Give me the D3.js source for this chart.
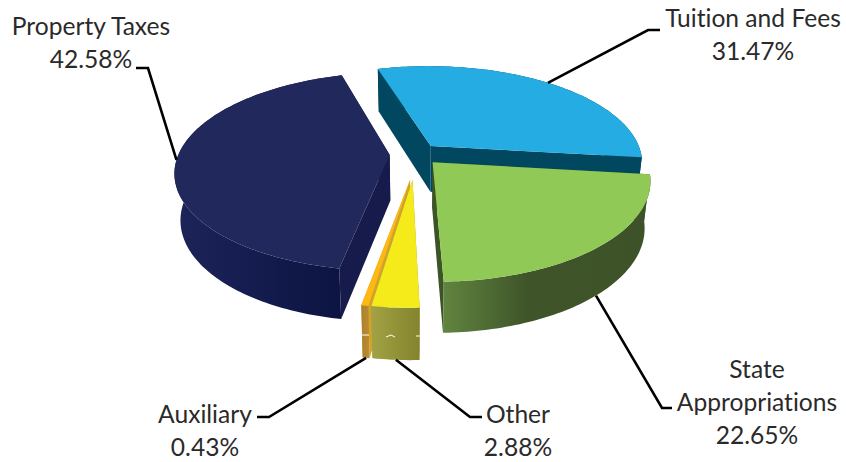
<!DOCTYPE html>
<html>
<head>
<meta charset="utf-8">
<script src="https://cdn.jsdelivr.net/npm/d3@7/dist/d3.min.js"></script>
<style>
  html, body { margin: 0; background: #fff; }
  text { font-family: Lato, "Open Sans", sans-serif; font-size: 24.6px; fill: #2b2a2a; text-anchor: middle; font-variant-ligatures: none; }
</style>
</head>
<body>
<svg id="chart" width="846" height="462"></svg>
<script>
// Revenue sources, clockwise from the pie's start bearing
const categories = ["Tuition and Fees", "State Appropriations", "Other", "Auxiliary", "Property Taxes"];
const shares = [31.47, 22.65, 2.88, 0.43, 42.58];

// Look of each wedge: how far it is pulled out, and its face colours
const styles = [
  { pull: 0.11, nudge: 0, top: "#25ace2", side: "#00475f", wall: ["#00475f", "#00475f", "#00475f"] },
  { pull: 0.115, nudge: 0, top: "#90c956", side: "#3c5426", wall: ["#618440", "#3f5529", "#3d5228"] },
  { pull: 0.26, nudge: 0, top: "#f5eb1a", side: "#9c9a3f", wall: ["#a3a246", "#959539", "#84842f"] },
  { pull: 0.26, nudge: -3.5, top: "#fdb813", side: "#d1a32b", wall: ["#a97e30", "#b08530", "#b98a2e"] },
  { pull: 0.125, nudge: 0, top: "#20285c", side: "#161b4b", wall: ["#1d2458", "#161d50", "#0c1442"] }
];

// Label lines and where the leader bends, per wedge
const labels = [
  { lines: ["Tuition and Fees", "31.47%"], x: 753, y: 27, elbow: [[648, 30], [660, 30]], fromBase: false },
  { lines: ["State", "Appropriations", "22.65%"], x: 757, y: 378, elbow: [[662, 408], [672, 408]], fromBase: true },
  { lines: ["Other", "2.88%"], x: 518, y: 423, elbow: [[470, 417], [482, 417]], fromBase: true },
  { lines: ["Auxiliary", "0.43%"], x: 205, y: 423, elbow: [[269, 417], [257, 417]], fromBase: true },
  { lines: ["Property Taxes", "42.58%"], x: 91, y: 35, elbow: [[148, 68], [136, 68]], fromBase: false }
];
const lineGap = 33;

// Ground-plane camera: perspective p, vertical foreshortening q, base taper
const cx = 416, cy = 154, R = 211, q = 0.455, p = 0.17, depth = 46, taper = 0.025;
const startBearing = -16.5 * Math.PI / 180;

function project(X, Y, Z) {
  const s = 1 / (1 - p * Y);
  return [cx + R * X * s * (1 - taper * Z), cy + R * q * Y * s + depth * Z * (0.5 + 0.5 * s)];
}

const pie = d3.pie().sort(null).value(d => d)
  .startAngle(startBearing).endAngle(startBearing + 2 * Math.PI);
const arcs = pie(shares);

// Work out the ground geometry of each pulled-out wedge
const wedges = arcs.map((a, i) => {
  const st = styles[i];
  const mid = (a.startAngle + a.endAngle) / 2;
  const dir = mid + st.nudge * Math.PI / 180;
  const ox = st.pull * Math.sin(dir), oy = -st.pull * Math.cos(dir);
  const n = Math.max(2, Math.ceil((a.endAngle - a.startAngle) / 0.02));
  const rim = d3.range(n + 1).map(k => {
    const t = a.startAngle + (a.endAngle - a.startAngle) * k / n;
    return [ox + Math.sin(t), oy - Math.cos(t)];
  });
  return { i, st, ox, oy, mid, rim, name: categories[i] };
});

const svg = d3.select("#chart");
const defs = svg.append("defs");
const line = d3.line();
const closed = pts => line(pts) + "Z";

// Far wedges first so nearer ones overlap them
const drawOrder = [0, 4, 1, 3, 2];
const pieLayer = svg.append("g");

drawOrder.forEach(idx => {
  const w = wedges[idx];
  const top = w.rim.map(([x, y]) => project(x, y, 0));
  const low = w.rim.map(([x, y]) => project(x, y, 1));
  const apexTop = project(w.ox, w.oy, 0);
  const apexLow = project(w.ox, w.oy, 1);
  const xs = d3.extent(top, d => d[0]);

  const gradId = "wall" + idx;
  const grad = defs.append("linearGradient").attr("id", gradId)
    .attr("gradientUnits", "userSpaceOnUse")
    .attr("x1", xs[0]).attr("x2", xs[1]).attr("y1", 0).attr("y2", 0);
  [0, 0.4, 1].forEach((o, k) => {
    grad.append("stop").attr("offset", o).attr("stop-color", w.st.wall[k]);
  });

  const g = pieLayer.append("g").attr("class", "wedge");
  // Radial walls
  [[top[0], low[0]], [top[top.length - 1], low[low.length - 1]]].forEach(([t, b]) => {
    g.append("path").attr("d", closed([apexTop, t, b, apexLow])).attr("fill", w.st.side);
  });
  // Outer rim wall
  g.append("path")
    .attr("d", closed(top.concat(low.slice().reverse())))
    .attr("fill", `url(#${gradId})`);
  // Top face
  g.append("path")
    .attr("d", closed([apexTop].concat(top)))
    .attr("fill", w.st.top);
});

// Small white nicks across the front walls of the two narrow wedges
const nicks = [
  [[362, 335], [369, 335]],
  [[386, 337], [391, 335], [395, 337]],
  [[416, 336], [421, 336]]
];
nicks.forEach(n => {
  svg.append("path").attr("d", line(n))
    .attr("fill", "none").attr("stroke", "#fff").attr("stroke-width", 1);
});

// Leaders and labels
labels.forEach((lab, i) => {
  const w = wedges[i];
  const rx = w.ox + Math.sin(w.mid), ry = w.oy - Math.cos(w.mid);
  const start = project(rx, ry, lab.fromBase ? 1 : 0);
  svg.append("path")
    .attr("d", line([start, ...lab.elbow]))
    .attr("fill", "none").attr("stroke", "#000").attr("stroke-width", 2.6);
  const t = svg.append("text");
  lab.lines.forEach((s, k) => {
    t.append("tspan").attr("x", lab.x).attr("y", lab.y + k * lineGap).text(s);
  });
});
</script>
</body>
</html>
